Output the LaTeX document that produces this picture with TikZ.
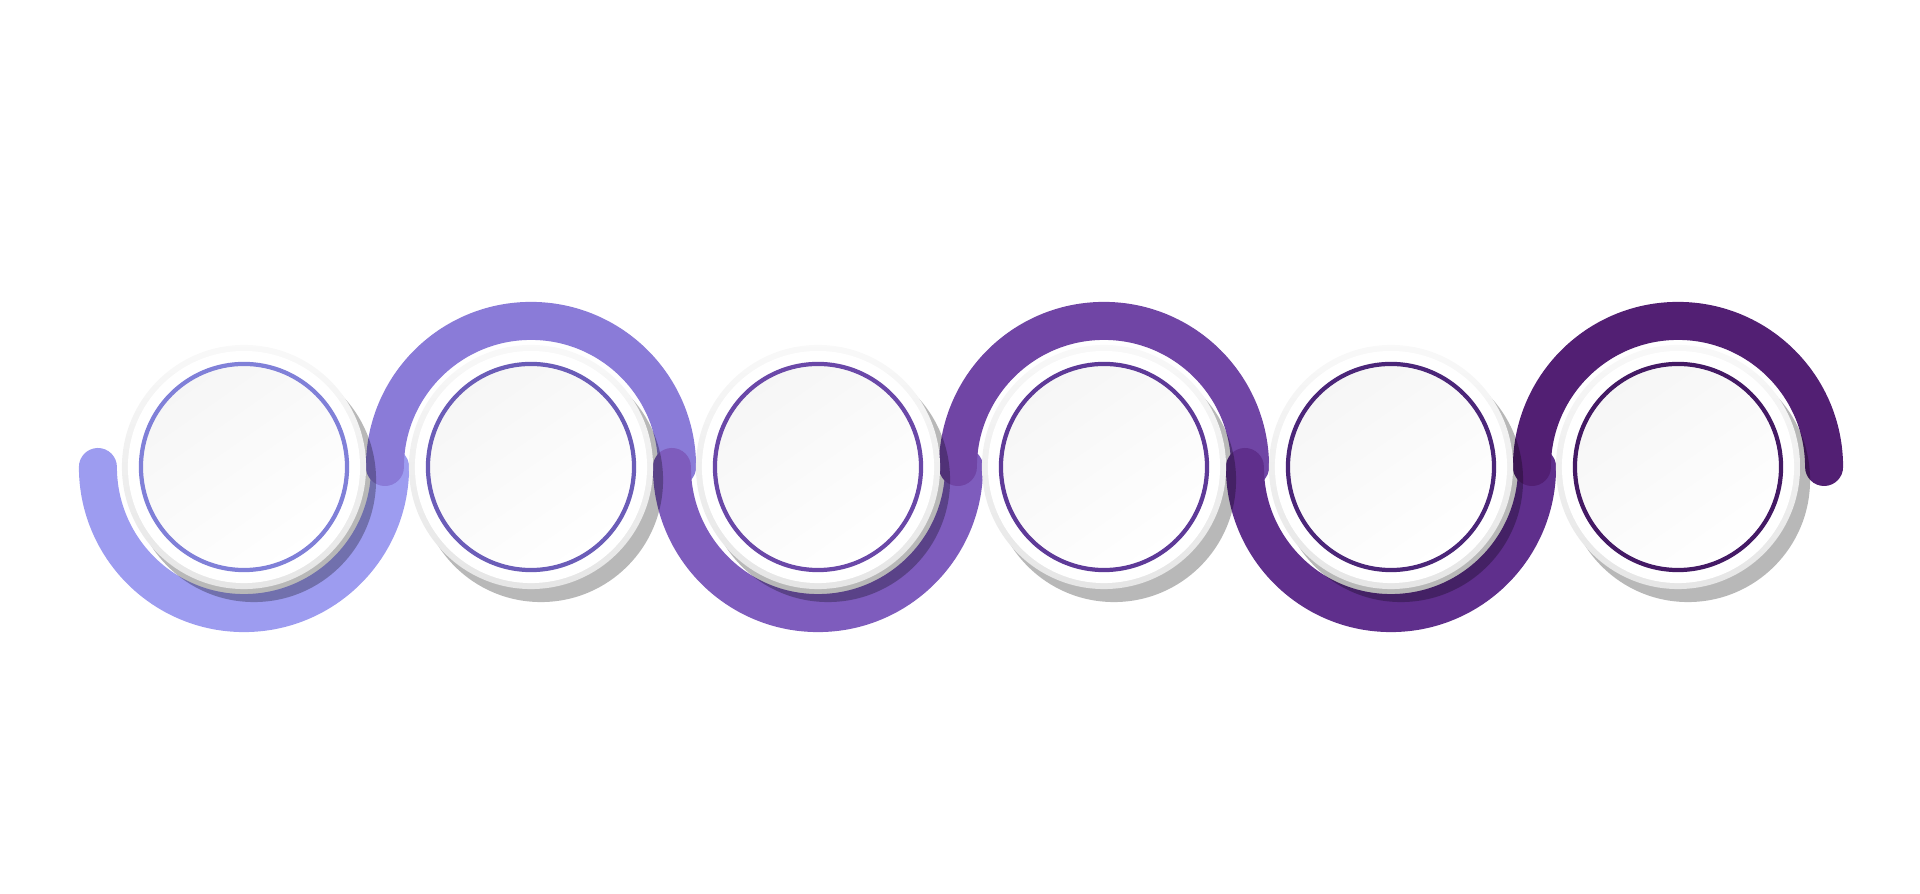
\documentclass[tikz,border=0pt]{standalone}
\usepackage{tikz}
\usetikzlibrary{positioning}
\usepackage{xcolor}
\definecolor{stepA}{HTML}{9D9CF0}
\definecolor{stepB}{HTML}{8A7BD8}
\definecolor{stepC}{HTML}{7E5CBD}
\definecolor{stepD}{HTML}{7045A5}
\definecolor{stepE}{HTML}{5F2F8C}
\definecolor{stepF}{HTML}{521F73}
\definecolor{ringA}{HTML}{8080D8}
\definecolor{ringB}{HTML}{6B5DB8}
\definecolor{ringC}{HTML}{6A48A8}
\definecolor{ringD}{HTML}{5E3A98}
\definecolor{ringE}{HTML}{4B2679}
\definecolor{ringF}{HTML}{441A65}

\begin{document}
\begin{tikzpicture}[x=0.01cm, y=0.01cm,
        band/.style={line width=0.38cm, line cap=round},
        drop/.style={circle, fill=black, opacity=0.28, minimum size=2.44cm, inner sep=0pt},
        rim/.style={circle, top color=gray!5, bottom color=gray!20, minimum size=2.44cm, inner sep=0pt},
        disc/.style={circle, fill=white, minimum size=2.32cm, inner sep=0pt},
        ring/.style={circle, draw, line width=1.2pt, top color=gray!7, bottom color=white, shading angle=35, minimum size=2.06cm, inner sep=0pt}
    ]
        \useasboundingbox (0,0) rectangle (1920,894);

        % Centres
        \coordinate (c1) at (244,427);
        \coordinate (c2) at (531,427);
        \coordinate (c3) at (818,427);
        \coordinate (c4) at (1104,427);
        \coordinate (c5) at (1391,427);
        \coordinate (c6) at (1678,427);

        % Wave
        \draw[band, stepA] ([xshift=-1.46cm]c1) arc[start angle=180, end angle=360, radius=1.46cm];
        \draw[band, stepB] ([xshift=-1.46cm]c2) arc[start angle=180, end angle=0, radius=1.46cm];
        \draw[band, stepC] ([xshift=-1.46cm]c3) arc[start angle=180, end angle=360, radius=1.46cm];
        \draw[band, stepD] ([xshift=-1.46cm]c4) arc[start angle=180, end angle=0, radius=1.46cm];
        \draw[band, stepE] ([xshift=-1.46cm]c5) arc[start angle=180, end angle=360, radius=1.46cm];
        \draw[band, stepF] ([xshift=-1.46cm]c6) arc[start angle=180, end angle=0, radius=1.46cm];

        % Shadows
        \node[drop] (d1) at ([shift={(10,-13)}]c1) {};
        \node[drop] (d2) at ([shift={(10,-13)}]c2) {};
        \node[drop] (d3) at ([shift={(10,-13)}]c3) {};
        \node[drop] (d4) at ([shift={(10,-13)}]c4) {};
        \node[drop] (d5) at ([shift={(10,-13)}]c5) {};
        \node[drop] (d6) at ([shift={(10,-13)}]c6) {};

        % Discs
        \node[rim] (r1) at (c1) {};
        \node[rim] (r2) at (c2) {};
        \node[rim] (r3) at (c3) {};
        \node[rim] (r4) at (c4) {};
        \node[rim] (r5) at (c5) {};
        \node[rim] (r6) at (c6) {};
        \node[disc] (w1) at (c1) {};
        \node[disc] (w2) at (c2) {};
        \node[disc] (w3) at (c3) {};
        \node[disc] (w4) at (c4) {};
        \node[disc] (w5) at (c5) {};
        \node[disc] (w6) at (c6) {};

        % Rings
        \node[ring, draw=ringA] (s1) at (c1) {};
        \node[ring, draw=ringB] (s2) at (c2) {};
        \node[ring, draw=ringC] (s3) at (c3) {};
        \node[ring, draw=ringD] (s4) at (c4) {};
        \node[ring, draw=ringE] (s5) at (c5) {};
        \node[ring, draw=ringF] (s6) at (c6) {};
    \end{tikzpicture}
\end{document}
